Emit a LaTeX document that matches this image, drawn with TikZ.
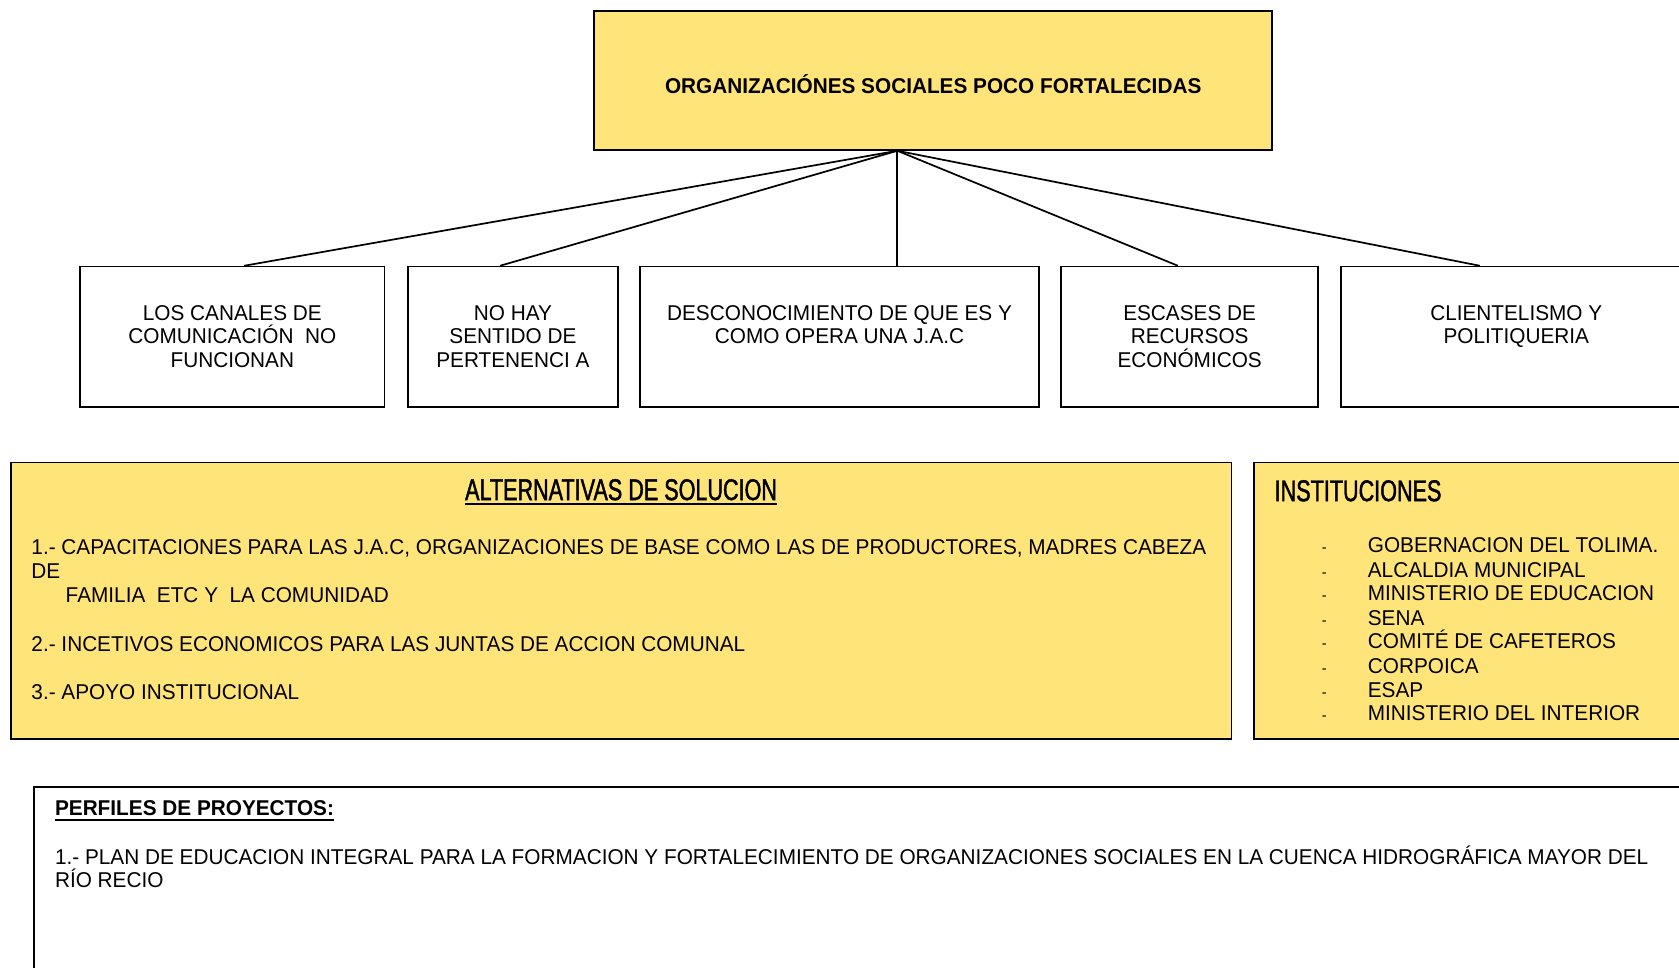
\documentclass[tikz,border=0pt]{standalone}
\usepackage{fontspec}
\setmainfont{Liberation Sans}[FakeStretch=0.97]
\newfontfamily\narrowfont{Liberation Sans}[FakeStretch=0.72, FakeBold=1.4]
\usetikzlibrary{positioning}

\definecolor{probyellow}{RGB}{255,228,122}

\newcommand{\causetext}[2]{\begin{minipage}[c][65.5pt][t]{#1}\centering\vspace*{18pt}#2\end{minipage}}
\newcommand{\thickul}[1]{\setbox0\hbox{#1}\rlap{\rule[-2.2pt]{\wd0}{0.9pt}}\box0}
\newcommand{\dashmark}{\makebox[21.5pt][l]{\fontsize{7}{7}\selectfont -}}

\tikzset{
  problem/.style={draw=black, line width=0.8pt, fill=probyellow, minimum width=316.5pt, minimum height=65pt, text height=12.3pt, text depth=0pt, font=\bfseries},
  cause/.style={draw=black, line width=0.8pt, inner sep=0pt},
  panel/.style={draw=black, line width=0.8pt, fill=probyellow, minimum height=129pt, inner sep=0pt},
  plainpanel/.style={draw=black, line width=0.8pt, inner sep=0pt},
  textline/.style={anchor=base west, inner sep=0pt},
  paneltitle/.style={inner sep=0pt, font=\fontsize{14}{16}\selectfont\narrowfont}
}

\begin{document}
\begin{tikzpicture}[x=0.5pt, y=-0.5pt, font=\fontsize{10}{11}\selectfont]

	\useasboundingbox (0,0) rectangle (1568,904);
	\clip (0,0) rectangle (1568,904);

	% problema central
	\node[problem] (top) at (871.5,75) {ORGANIZACIÓNES SOCIALES POCO FORTALECIDAS};
	\coordinate (apex) at ([xshift=-16.75pt]top.south);

	% causas
	\node[cause] (c1) at (217,314.5)  {\causetext{142pt}{LOS CANALES DE\\ COMUNICACIÓN\ \ NO\\ FUNCIONAN}};
	\node[cause] (c2) at (479,314.5)  {\causetext{98pt}{NO HAY\\ SENTIDO DE\\ PERTENENCI A}};
	\node[cause] (c3) at (784,314.5)  {\causetext{186pt}{DESCONOCIMIENTO DE QUE ES Y\\ COMO OPERA UNA J.A.C}};
	\node[cause] (c4) at (1111,314.5) {\causetext{120pt}{ESCASES DE\\ RECURSOS\\ ECONÓMICOS}};
	\node[cause] (c5) at (1416,314.5) {\causetext{164pt}{CLIENTELISMO Y\\ POLITIQUERIA}};

	\draw[line width=0.8pt] (apex) -- ([xshift=5.5pt]c1.north);
	\draw[line width=0.8pt] (apex) -- ([xshift=-6pt]c2.north);
	\draw[line width=0.8pt] (apex) -- (apex |- c3.north);
	\draw[line width=0.8pt] (apex) -- ([xshift=-5.5pt]c4.north);
	\draw[line width=0.8pt] (apex) -- ([xshift=-17pt]c5.north);

	% alternativas
	\node[panel, minimum width=570pt] (alt) at (580,561) {};
	\node[paneltitle, anchor=base] (alttitle) at (580,467) {\thickul{ALTERNATIVAS DE SOLUCION}};
	\node[textline] (a1) at (29,518) {1.- CAPACITACIONES PARA LAS J.A.C, ORGANIZACIONES DE BASE COMO LAS DE PRODUCTORES, MADRES CABEZA};
	\node[textline] (a1b) at (29,540) {DE};
	\node[textline] (a1c) at (61,563) {FAMILIA\ \ ETC Y\ \ LA COMUNIDAD};
	\node[textline] (a2) at (29,608) {2.- INCETIVOS ECONOMICOS PARA LAS JUNTAS DE ACCION COMUNAL};
	\node[textline] (a3) at (29,653) {3.- APOYO INSTITUCIONAL};

	% instituciones
	\node[panel, minimum width=209.5pt] (inst) at (1380.5,561) {};
	\node[paneltitle, anchor=base west] (insttitle) at (1190,468) {INSTITUCIONES};
	\node[textline] (i1) at (1234,516) {\dashmark GOBERNACION DEL TOLIMA.};
	\node[textline] (i2) at (1234,539) {\dashmark ALCALDIA MUNICIPAL};
	\node[textline] (i3) at (1234,561) {\dashmark MINISTERIO DE EDUCACION};
	\node[textline] (i4) at (1234,584) {\dashmark SENA};
	\node[textline] (i5) at (1234,606) {\dashmark COMITÉ DE CAFETEROS};
	\node[textline] (i6) at (1234,629) {\dashmark CORPOICA};
	\node[textline] (i7) at (1234,651) {\dashmark ESAP};
	\node[textline] (i8) at (1234,673) {\dashmark MINISTERIO DEL INTERIOR};

	% perfiles de proyectos
	\node[plainpanel, minimum width=779pt, minimum height=102.5pt] (perf) at (811,837.5) {};
	\node[textline, font=\bfseries] (ptitle) at (51,762) {\thickul{PERFILES DE PROYECTOS:}};
	\node[textline] (p1) at (51,807) {1.- PLAN DE EDUCACION INTEGRAL PARA LA FORMACION Y FORTALECIMIENTO DE ORGANIZACIONES SOCIALES EN LA CUENCA HIDROGRÁFICA MAYOR DEL};
	\node[textline] (p1b) at (51,829) {RÍO RECIO};

\end{tikzpicture}
\end{document}
